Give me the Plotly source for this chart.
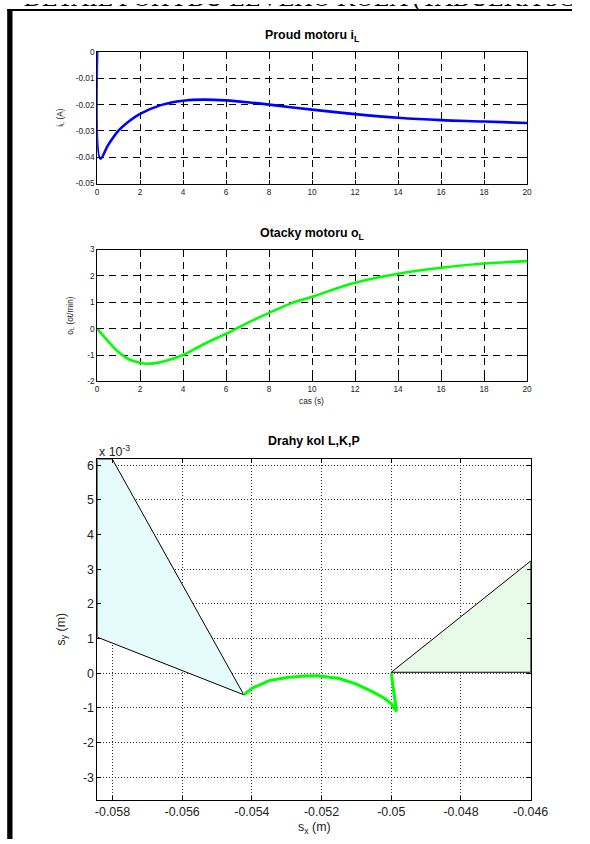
import plotly.graph_objects as go

W, H = 590, 844

# ---- data ----
header = ["DETAIL POHYBU LEVÉHO KOLA (TABULKA 5C)"]

t1 = [0, 0.15, 0.5, 1, 1.5, 2, 3, 4, 5, 6, 7, 8, 9, 10, 12, 14, 16, 18, 20]
iL = [0, -0.0405, -0.0355, -0.0298, -0.0262, -0.0235, -0.0201, -0.0185, -0.0181, -0.0184,
      -0.0191, -0.0200, -0.0210, -0.0219, -0.0236, -0.0250, -0.0259, -0.0264, -0.0270]

t2 = [0, 0.5, 1, 1.5, 2, 2.3, 3, 4, 5, 6, 7, 8, 9, 10, 12, 14, 16, 18, 20]
oL = [0, -0.47, -0.89, -1.17, -1.29, -1.33, -1.26, -1.0, -0.57, -0.19, 0.22, 0.6, 0.95,
      1.21, 1.74, 2.08, 2.31, 2.47, 2.56]

# wheel path K (sy in 1e-3 m)
path_sx = [-0.05423, -0.0540, -0.0535, -0.0530, -0.0525, -0.0521, -0.0515, -0.0510,
           -0.0505, -0.0502, -0.0500, -0.04985, -0.0500]
path_sy = [-0.62, -0.43, -0.21, -0.12, -0.08, -0.07, -0.15, -0.31, -0.55, -0.72, -0.88,
           -1.10, 0.0]

# wheel L region (left, cyan)
left_sx = [-0.05843, -0.0580, -0.05423, -0.05843, -0.05843]
left_sy = [6.17, 6.17, -0.62, 1.04, 6.17]

# wheel P region (right, green)
right_sx = [-0.0500, -0.0460, -0.0460, -0.0500]
right_sy = [0.03, 3.24, 0.03, 0.03]

x12_ticks = list(range(0, 21, 2))
y1_ticks = [0, -0.01, -0.02, -0.03, -0.04, -0.05]
y1_text = ["0", "-0.01", "-0.02", "-0.03", "-0.04", "-0.05"]
y2_ticks = [3, 2, 1, 0, -1, -2]
y2_text = ["3", "2", "1", "0", "-1", "-2"]
x3_ticks = [-0.058, -0.056, -0.054, -0.052, -0.050, -0.048, -0.046]
x3_text = ["-0.058", "-0.056", "-0.054", "-0.052", "-0.05", "-0.048", "-0.046"]
y3_ticks = [6, 5, 4, 3, 2, 1, 0, -1, -2, -3]
y3_text = ["6", "5", "4", "3", "2", "1", "0", "-1", "-2", "-3"]

FONT = "Liberation Sans, Arial, sans-serif"

# observed capture mapping (rendered = a*design + b), compensated here
AX, BX = 0.9665, 2.8
AY, BY = 0.990, 4.3


def dx(x):
    return (x - BX) / AX


def dy(y):
    return (y - BY) / AY


def px(x):
    return dx(x) / W


def py(y):
    return 1 - dy(y) / H


FS = 1.0 / AX  # font compensation
HDR_H = dy(10.3)

fig = go.Figure()

# header strip (clipped to the top band like the cropped page)
fig.add_trace(go.Scatter(x=[dx(304.5)], y=[HDR_H + 4.4], mode="text", text=header,
                         cliponaxis=True, textposition="middle center",
                         textfont=dict(family="Liberation Serif, Times New Roman, serif",
                                       size=25.4, color="black"),
                         xaxis="x4", yaxis="y4", showlegend=False, hoverinfo="skip"))

fig.add_trace(go.Scatter(x=t1, y=iL, mode="lines", line=dict(color="#0000ff", width=2.6),
                         line_shape="spline", xaxis="x", yaxis="y", showlegend=False))
fig.add_trace(go.Scatter(x=t2, y=oL, mode="lines", line=dict(color="#00ff00", width=2.6),
                         line_shape="spline", xaxis="x2", yaxis="y2", showlegend=False))
fig.add_trace(go.Scatter(x=left_sx, y=left_sy, mode="lines", fill="toself",
                         fillcolor="#e6fbfb", line=dict(color="#000000", width=1),
                         xaxis="x3", yaxis="y3", showlegend=False))
fig.add_trace(go.Scatter(x=right_sx, y=right_sy, mode="lines", fill="toself",
                         fillcolor="#e8fae8", line=dict(color="#000000", width=1),
                         xaxis="x3", yaxis="y3", showlegend=False))
fig.add_trace(go.Scatter(x=path_sx, y=path_sy, mode="lines", line=dict(color="#00ff00", width=3),
                         xaxis="x3", yaxis="y3", showlegend=False))

small = dict(family=FONT, size=8 * FS, color="#222")
big = dict(family=FONT, size=12 * FS, color="#222")
common = dict(showline=True, linecolor="black", linewidth=1, mirror="ticks",
              ticks="inside", ticklen=4, tickcolor="black", zeroline=False,
              showgrid=True)

dash12 = dict(gridcolor="#000000", griddash="7px,5px", gridwidth=1)
dot3 = dict(gridcolor="#333333", griddash="1px,2px", gridwidth=1)

fig.update_layout(
    width=W, height=H, margin=dict(l=0, r=0, t=0, b=0),
    paper_bgcolor="white", plot_bgcolor="white",
    xaxis=dict(domain=[px(98), px(528)], anchor="y", range=[0, 20], tickvals=x12_ticks,
               tickfont=small, **common, **dash12),
    yaxis=dict(domain=[py(184), py(52.3)], anchor="x", range=[-0.05, 0], tickvals=y1_ticks,
               ticktext=y1_text, tickfont=small, **common, **dash12),
    xaxis2=dict(domain=[px(98), px(528)], anchor="y2", range=[0, 20], tickvals=x12_ticks,
                tickfont=small, **common, **dash12),
    yaxis2=dict(domain=[py(382), py(250)], anchor="x2", range=[-2, 3], tickvals=y2_ticks,
                ticktext=y2_text, tickfont=small, **common, **dash12),
    xaxis3=dict(domain=[px(98.3), px(531.7)], anchor="y3", range=[-0.05843, -0.046],
                tickvals=x3_ticks, ticktext=x3_text, tickfont=big, **common, **dot3),
    yaxis3=dict(domain=[py(800.7), py(460)], anchor="x3", range=[-3.65, 6.17],
                tickvals=y3_ticks, ticktext=y3_text, tickfont=big, **common, **dot3),
    xaxis4=dict(domain=[0, 1], anchor="y4", range=[0, W], visible=False, fixedrange=True),
    yaxis4=dict(domain=[1 - HDR_H / H, 1], anchor="x4", range=[0, HDR_H], visible=False,
                fixedrange=True),
)

ann = []
ann.append(dict(text="<b>Proud motoru i<sub>L</sub></b>", x=px(313), y=py(36), xanchor="center",
                yanchor="middle", font=dict(family=FONT, size=12 * FS, color="black")))
ann.append(dict(text="<b>Otacky motoru o<sub>L</sub></b>", x=px(313), y=py(234), xanchor="center",
                yanchor="middle", font=dict(family=FONT, size=12 * FS, color="black")))
ann.append(dict(text="<b>Drahy kol L,K,P</b>", x=px(315), y=py(442), xanchor="center",
                yanchor="middle", font=dict(family=FONT, size=12 * FS, color="black")))
ann.append(dict(text="i<sub>L</sub> (A)", x=px(61), y=py(118), textangle=-90, xanchor="center",
                yanchor="middle", font=small))
ann.append(dict(text="o<sub>L</sub> (ot/min)", x=px(72), y=py(316), textangle=-90,
                xanchor="center", yanchor="middle", font=small))
ann.append(dict(text="cas (s)", x=px(312), y=py(402), xanchor="center", yanchor="middle",
                font=small))
ann.append(dict(text="s<sub>y</sub> (m)", x=px(63), y=py(630), textangle=-90, xanchor="center",
                yanchor="middle", font=big))
ann.append(dict(text="s<sub>x</sub> (m)", x=px(315), y=py(829), xanchor="center",
                yanchor="middle", font=big))
ann.append(dict(text="x 10<sup>-3</sup>", x=px(98), y=py(452), xanchor="left", yanchor="middle",
                font=big))
for a in ann:
    a.update(xref="paper", yref="paper", showarrow=False)
fig.update_layout(annotations=ann)

fig.update_layout(shapes=[
    dict(type="rect", xref="paper", yref="paper", x0=px(8), x1=px(13.3), y0=0, y1=py(9.5),
         fillcolor="black", line=dict(width=0)),
    dict(type="line", xref="paper", yref="paper", x0=px(8), x1=1, y0=py(10.3), y1=py(10.3),
         line=dict(color="black", width=2)),
])

post = ("document.documentElement.style.overflow='hidden';"
        "document.body.style.margin='0';document.body.style.overflow='hidden';"
        "var g=document.getElementById('{plot_id}');g.style.overflow='hidden';"
        "window.scrollTo(0,0);")

fig.write_html("out.html", config={"displayModeBar": False}, post_script=post)
